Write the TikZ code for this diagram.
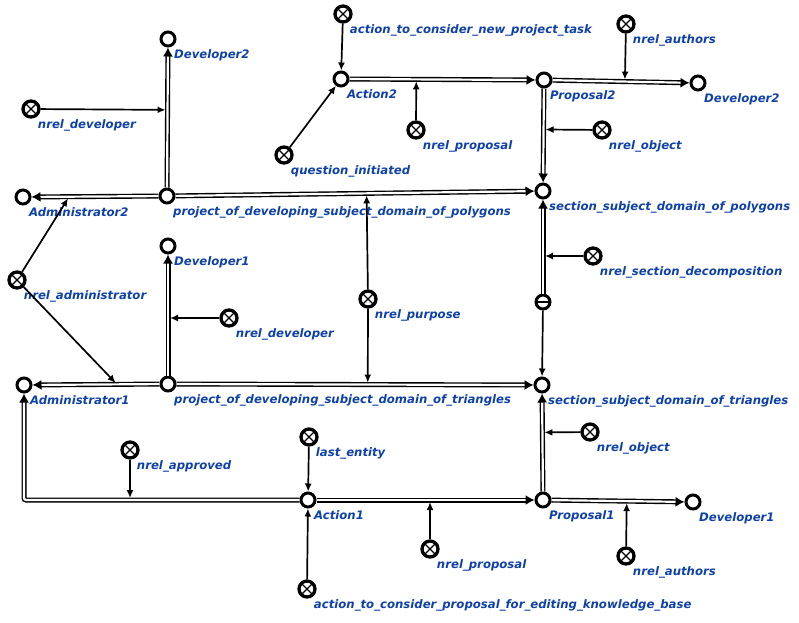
\documentclass[tikz,border=0pt]{standalone}
\usepackage{fontspec}
\newfontfamily\sclabelfont{DejaVu Sans}
\usetikzlibrary{arrows.meta,calc}
\definecolor{sclblue}{RGB}{15,65,170}
\tikzset{
    scnode/.style={circle, draw, fill=white, line width=3pt, minimum size=14pt, inner sep=0pt},
    screl/.style={circle, draw, fill=white, line width=3.3pt, minimum size=16pt, inner sep=0pt,
        path picture={\draw[line width=1.3pt]
            (path picture bounding box.south west) -- (path picture bounding box.north east)
            (path picture bounding box.north west) -- (path picture bounding box.south east);}},
    sctuple/.style={circle, draw, fill=white, line width=3pt, minimum size=14pt, inner sep=0pt,
        path picture={\draw[line width=1.3pt]
            (path picture bounding box.west) -- (path picture bounding box.east);}},
    lbl/.style={text=sclblue, font=\sclabelfont\bfseries\itshape\fontsize{11.7}{13}\selectfont,
        inner sep=1pt, label distance=-1.5pt, yshift=-4pt},
    comarc/.style={double=white, double distance=2.2pt, line width=1.4pt,
        -{Latex[length=9pt,width=10pt]}},
    acc/.style={line width=1.7pt, -{Latex[length=8pt,width=7pt]}, shorten >=2pt},
}
\begin{document}
\begin{tikzpicture}[x=1pt, y=-1pt]
    \useasboundingbox (0,0) rectangle (799,622);

    % 1. upper project (polygons)
    \node[scnode, label={[lbl]below right:Developer2}] (dev2l) at (168,39) {};
    \node[screl, label={[lbl]below right:nrel\_developer}] (reldevt) at (31,109) {};
    \node[scnode, label={[lbl]below right:Administrator2}] (adm2) at (23,197) {};
    \node[scnode, label={[lbl]below right:project\_of\_developing\_subject\_domain\_of\_polygons}] (prjp) at (167,196) {};
    \node[scnode, label={[lbl]below right:Action2}] (act2) at (341,79) {};
    \node[screl, label={[lbl]below right:action\_to\_consider\_new\_project\_task}] (actnew) at (343,14) {};
    \node[screl, label={[lbl]below right:question\_initiated}] (qinit) at (284,155) {};
    \node[screl, label={[lbl]below right:nrel\_proposal}] (relpropt) at (416,130) {};
    \node[scnode, label={[lbl]below right:Proposal2}] (prop2) at (544,80) {};
    \node[screl, label={[lbl]below right:nrel\_authors}] (relautt) at (626,24) {};
    \node[scnode, label={[lbl]below right:Developer2}] (dev2r) at (698,83) {};
    \node[screl, label={[lbl]below right:nrel\_object}] (relobjt) at (602,130) {};
    \node[scnode, label={[lbl]below right:section\_subject\_domain\_of\_polygons}] (secp) at (543,191) {};

    % 2. decomposition of the sections
    \node[screl, label={[lbl]below right:nrel\_section\_decomposition}] (relsec) at (593,256) {};
    \node[sctuple] (tup) at (543,302) {};
    \node[scnode, label={[lbl]below right:section\_subject\_domain\_of\_triangles}] (sect) at (542,385) {};
    \node[screl, label={[lbl]below right:nrel\_object}] (relobjb) at (590,432) {};

    % 3. lower project (triangles)
    \node[screl, label={[lbl]below right:nrel\_administrator}] (reladm) at (17,280) {};
    \node[scnode, label={[lbl]below right:Developer1}] (dev1l) at (168,246) {};
    \node[screl, label={[lbl]below right:nrel\_developer}] (reldevb) at (229,318) {};
    \node[screl, label={[lbl]below right:nrel\_purpose}] (relpurp) at (368,299) {};
    \node[scnode, label={[lbl]below right:Administrator1}] (adm1) at (24,385) {};
    \node[scnode, label={[lbl]below right:project\_of\_developing\_subject\_domain\_of\_triangles}] (prjt) at (168,384) {};
    \node[screl, label={[lbl]below right:nrel\_approved}] (relappr) at (130,450) {};
    \node[screl, label={[lbl]below right:last\_entity}] (lastent) at (309,437) {};
    \node[scnode, label={[lbl]below right:Action1}] (act1) at (308,500) {};
    \node[screl, label={[lbl]below right:action\_to\_consider\_proposal\_for\_editing\_knowledge\_base}] (actprop) at (307,589) {};
    \node[screl, label={[lbl]below right:nrel\_proposal}] (relpropb) at (430,549) {};
    \node[scnode, label={[lbl]below right:Proposal1}] (prop1) at (543,500) {};
    \node[screl, label={[lbl]below right:nrel\_authors}] (relautb) at (626,556) {};
    \node[scnode, label={[lbl]below right:Developer1}] (dev1r) at (693,502) {};

    % 4. common arcs (double lines)
    \draw[comarc] (prjp) -- (dev2l);
    \draw[comarc] (prjp) -- (adm2);
    \draw[comarc] (prjp) -- (secp);
    \draw[comarc] (act2) -- (prop2);
    \draw[comarc] (prop2) -- (dev2r);
    \draw[comarc] (prop2) -- (secp);
    \draw[comarc] (tup) -- (secp);
    \draw[comarc] (prjt) -- (dev1l);
    \draw[comarc] (prjt) -- (adm1);
    \draw[comarc] (prjt) -- (sect);
    \draw[comarc, rounded corners=2pt] (act1) -| (adm1);
    \draw[comarc] (act1) -- (prop1);
    \draw[comarc] (prop1) -- (dev1r);
    \draw[comarc] (prop1) -- (sect);

    % 5. points on the arcs where the relations point to
    \coordinate (mdevt) at ($(prjp)!(reldevt)!(dev2l)$);
    \coordinate (mpropt) at ($(act2)!(relpropt)!(prop2)$);
    \coordinate (mautt) at ($(prop2)!(relautt)!(dev2r)$);
    \coordinate (mobjt) at ($(prop2)!(relobjt)!(secp)$);
    \coordinate (madm2) at ($(prjp)!0.68!(adm2)$);
    \coordinate (madm1) at ($(prjt)!0.354!(adm1)$);
    \coordinate (mdevb) at ($(prjt)!(reldevb)!(dev1l)$);
    \coordinate (mpurpt) at ($(prjp)!(relpurp)!(secp)$);
    \coordinate (mpurpb) at ($(prjt)!(relpurp)!(sect)$);
    \coordinate (msec) at ($(tup)!(relsec)!(secp)$);
    \coordinate (mobjb) at ($(prop1)!(relobjb)!(sect)$);
    \coordinate (mappr) at (relappr |- act1);
    \coordinate (mpropb) at ($(act1)!(relpropb)!(prop1)$);
    \coordinate (mautb) at ($(prop1)!(relautb)!(dev1r)$);

    % 6. access arcs
    \draw[acc] (reldevt) -- (mdevt);
    \draw[acc, shorten >=0pt] (actnew) -- (act2);
    \draw[acc, shorten >=0pt] (qinit) -- (act2);
    \draw[acc] (relpropt) -- (mpropt);
    \draw[acc] (relautt) -- (mautt);
    \draw[acc] (relobjt) -- (mobjt);
    \draw[acc] (reladm) -- (madm2);
    \draw[acc] (reladm) -- (madm1);
    \draw[acc] (reldevb) -- (mdevb);
    \draw[acc] (relpurp) -- (mpurpt);
    \draw[acc] (relpurp) -- (mpurpb);
    \draw[acc] (relsec) -- (msec);
    \draw[acc, shorten >=0pt] (tup) -- (sect);
    \draw[acc] (relobjb) -- (mobjb);
    \draw[acc] (relappr) -- (mappr);
    \draw[acc, shorten >=0pt] (lastent) -- (act1);
    \draw[acc, shorten >=0pt] (actprop) -- (act1);
    \draw[acc] (relpropb) -- (mpropb);
    \draw[acc] (relautb) -- (mautb);
\end{tikzpicture}
\end{document}
